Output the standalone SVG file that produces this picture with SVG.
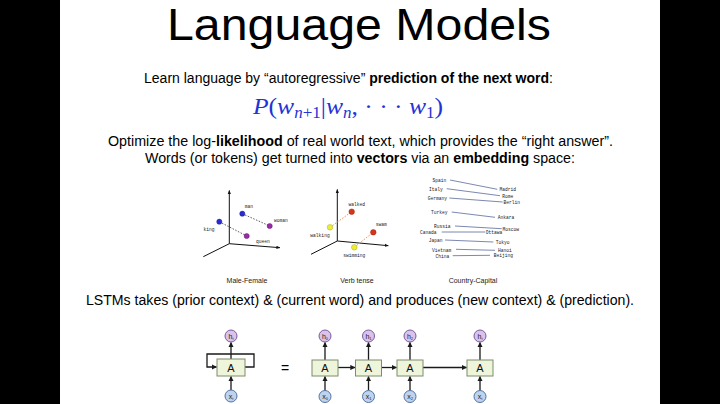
<svg xmlns="http://www.w3.org/2000/svg" width="720" height="404" viewBox="0 0 720 404">
<style>
.t{font-family:"Liberation Sans",Arial,sans-serif;fill:#000}
.b{font-weight:bold}
.mono{font-family:"Liberation Mono","Courier New",monospace;font-size:4.6px;fill:#222}
.cap{font-family:"Liberation Sans",Arial,sans-serif;font-size:7px;fill:#222;text-anchor:middle}
.ax{stroke:#111;stroke-width:1;fill:none}
.cl{stroke:#5a6a9a;stroke-width:0.8}
.box{fill:#eef5da;stroke:#7d8c6c;stroke-width:1}
.hc{fill:#d9c3ea;stroke:#7e5a9e;stroke-width:1}
.xc{fill:#bed3ee;stroke:#5672a0;stroke-width:1}
.ar{stroke:#1a1a1a;stroke-width:1.3;fill:none;marker-end:url(#ah)}
.lbl{font-family:"Liberation Sans",Arial,sans-serif;font-size:7px;fill:#222;text-anchor:middle}
.A{font-family:"Liberation Sans",Arial,sans-serif;font-size:11px;fill:#111;text-anchor:middle}
</style>
<defs>
<marker id="ah" viewBox="0 0 10 10" refX="9" refY="5" markerWidth="4" markerHeight="4" orient="auto"><path d="M0,0L10,5L0,10z" fill="#1a1a1a"/></marker>
<marker id="ax" viewBox="0 0 10 10" refX="9" refY="5" markerWidth="4" markerHeight="4" orient="auto"><path d="M0,1L10,5L0,9z" fill="#111"/></marker>
</defs>
<rect width="720" height="404" fill="#fff"/>
<rect x="0" y="0" width="60" height="404" fill="#000"/>
<rect x="660" y="0" width="60" height="404" fill="#000"/>

<text class="t" x="167" y="40" font-size="45" textLength="384" lengthAdjust="spacingAndGlyphs">Language Models</text>
<text class="t" x="144" y="83" font-size="14" textLength="409" lengthAdjust="spacingAndGlyphs">Learn language by “autoregressive” <tspan class="b">prediction of the next word</tspan>:</text>
<text x="253" y="114" font-family="Liberation Serif,serif" font-size="24" fill="#2433d6" textLength="190" lengthAdjust="spacingAndGlyphs"><tspan font-style="italic">P</tspan>(<tspan font-style="italic">w</tspan><tspan font-size="16" dy="4" font-style="italic">n</tspan><tspan font-size="16">+1</tspan><tspan dy="-4">|</tspan><tspan font-style="italic">w</tspan><tspan font-size="16" dy="4" font-style="italic">n</tspan><tspan dy="-4">, · · · </tspan><tspan font-style="italic">w</tspan><tspan font-size="16" dy="4">1</tspan><tspan dy="-4">)</tspan></text>
<text class="t" x="108" y="146" font-size="14" textLength="505" lengthAdjust="spacingAndGlyphs">Optimize the log-<tspan class="b">likelihood</tspan> of real world text, which provides the “right answer”.</text>
<text class="t" x="145" y="163" font-size="14" textLength="430" lengthAdjust="spacingAndGlyphs">Words (or tokens) get turned into <tspan class="b">vectors</tspan> via an <tspan class="b">embedding</tspan> space:</text>

<g id="plot-male-female">
<path class="ax" d="M229.3,243.7V190.5" marker-end="url(#ax)"/>
<path class="ax" d="M229.3,243.7L280,247.7" marker-end="url(#ax)"/>
<path class="ax" d="M229.3,243.7L203.3,256.7"/>
<path d="M219.3,221.7L246.7,236M242.3,213.7L269.7,226" stroke="#333" stroke-width="0.8" stroke-dasharray="1.5,1.5"/>
<circle cx="219.3" cy="221.7" r="2.6" fill="#2a2ad6" stroke="#1a1a80" stroke-width="0.4"/>
<circle cx="242.3" cy="213.7" r="2.6" fill="#2a2ad6" stroke="#1a1a80" stroke-width="0.4"/>
<circle cx="246.7" cy="236" r="2.6" fill="#9a2aa8" stroke="#501060" stroke-width="0.4"/>
<circle cx="269.7" cy="226" r="2.6" fill="#9a2aa8" stroke="#501060" stroke-width="0.4"/>
<text class="mono" x="209" y="230.5" text-anchor="middle">king</text>
<text class="mono" x="249" y="207.5" text-anchor="middle">man</text>
<text class="mono" x="281" y="221.5" text-anchor="middle">woman</text>
<text class="mono" x="263" y="242.5" text-anchor="middle">queen</text>
<text class="cap" x="247" y="283">Male-Female</text>
</g>

<g id="plot-verb-tense">
<path class="ax" d="M337.3,241V189.5" marker-end="url(#ax)"/>
<path class="ax" d="M337.3,241L388.3,245.7" marker-end="url(#ax)"/>
<path class="ax" d="M337.3,241L311,254.3"/>
<path d="M330,227.3L351.7,211.7M354.3,247.3L373.3,232.3" stroke="#e8905a" stroke-width="1" stroke-dasharray="1.5,1.5"/>
<circle cx="351.7" cy="211.7" r="2.8" fill="#d8341a" stroke="#802010" stroke-width="0.4"/>
<circle cx="373.3" cy="232.3" r="2.8" fill="#d8341a" stroke="#802010" stroke-width="0.4"/>
<circle cx="330" cy="227.3" r="2.8" fill="#eeee30" stroke="#9a9a20" stroke-width="0.4"/>
<circle cx="354.3" cy="247.3" r="2.8" fill="#eeee30" stroke="#9a9a20" stroke-width="0.4"/>
<text class="mono" x="356.7" y="205.8" text-anchor="middle">walked</text>
<text class="mono" x="320" y="236.5" text-anchor="middle">walking</text>
<text class="mono" x="381.3" y="225.8" text-anchor="middle">swam</text>
<text class="mono" x="354.3" y="257.2" text-anchor="middle">swimming</text>
<text class="cap" x="357" y="283">Verb tense</text>
</g>

<g id="plot-country-capital">
<path class="cl" d="M450,180L497.3,189.3M446.7,188.7L500,195.7M449.3,198L502.7,202M451.7,212L495,217.3M455,226L501.7,228.7M441.7,232L485,232M445,240L493.3,242M456,249.3L495,250.3M452.7,255.7L490,255.3"/>
<g class="mono" text-anchor="middle">
<text x="439.3" y="182.2">Spain</text>
<text x="436" y="190.8">Italy</text>
<text x="437.3" y="199.5">Germany</text>
<text x="439.3" y="213.8">Turkey</text>
<text x="442.3" y="228.2">Russia</text>
<text x="428.3" y="233.8">Canada</text>
<text x="435.7" y="241.8">Japan</text>
<text x="441.7" y="251.5">Vietnam</text>
<text x="442.3" y="257.5">China</text>
<text x="507.7" y="190.8">Madrid</text>
<text x="507.7" y="197.5">Rome</text>
<text x="511.7" y="204.2">Berlin</text>
<text x="506" y="219.2">Ankara</text>
<text x="510.7" y="230.8">Moscow</text>
<text x="494" y="233.8">Ottawa</text>
<text x="502.7" y="244.2">Tokyo</text>
<text x="505" y="252.2">Hanoi</text>
<text x="503.3" y="257.2">Beijing</text>
</g>
<text class="cap" x="473" y="283">Country-Capital</text>
</g>

<text class="t" x="86" y="305" font-size="14" textLength="548" lengthAdjust="spacingAndGlyphs">LSTMs takes (prior context) &amp; (current word) and produces (new context) &amp; (prediction).</text>

<g id="connectors">
<path class="ar" d="M231,359V342.5"/>
<path class="ar" d="M231,390V376.5"/>
<path class="ar" d="M245,367H254V354H207V367H216.5"/>
<path class="ar" d="M325,360V342.5"/>
<path class="ar" d="M325,390.5V376.5"/>
<path class="ar" d="M368.5,360V342.5"/>
<path class="ar" d="M368.5,390.5V376.5"/>
<path class="ar" d="M410,360V342.5"/>
<path class="ar" d="M410,390.5V376.5"/>
<path class="ar" d="M480,360V342.5"/>
<path class="ar" d="M480,390.5V376.5"/>
<path class="ar" d="M338,367.5H355"/>
<path class="ar" d="M381.5,367.5H396.5"/>
<path class="ar" d="M423,367.5H466.5"/>
</g>

<g id="rolled-h"><circle class="hc" cx="231" cy="336" r="6"/><text class="lbl" x="231" y="338.5">h<tspan font-size="4" dy="1">t</tspan></text></g>
<g id="rolled-A"><rect class="box" x="217" y="359" width="28" height="17"/><text class="A" x="231" y="371.5">A</text></g>
<g id="rolled-x"><circle class="xc" cx="231" cy="396" r="6"/><text class="lbl" x="231" y="398.5">x<tspan font-size="4" dy="1">t</tspan></text></g>

<text class="t" x="285" y="373" font-size="14" text-anchor="middle">=</text>

<g id="h0"><circle class="hc" cx="325" cy="336" r="6"/><text class="lbl" x="325" y="338.5">h<tspan font-size="4" dy="1">0</tspan></text></g>
<g id="A0"><rect class="box" x="312" y="360" width="26" height="16"/><text class="A" x="325" y="372">A</text></g>
<g id="x0"><circle class="xc" cx="325" cy="396.5" r="6"/><text class="lbl" x="325" y="399">x<tspan font-size="4" dy="1">0</tspan></text></g>

<g id="h1"><circle class="hc" cx="368.5" cy="336" r="6"/><text class="lbl" x="368.5" y="338.5">h<tspan font-size="4" dy="1">1</tspan></text></g>
<g id="A1"><rect class="box" x="355.5" y="360" width="26" height="16"/><text class="A" x="368.5" y="372">A</text></g>
<g id="x1"><circle class="xc" cx="368.5" cy="396.5" r="6"/><text class="lbl" x="368.5" y="399">x<tspan font-size="4" dy="1">1</tspan></text></g>

<g id="h2"><circle class="hc" cx="410" cy="336" r="6"/><text class="lbl" x="410" y="338.5">h<tspan font-size="4" dy="1">2</tspan></text></g>
<g id="A2"><rect class="box" x="397" y="360" width="26" height="16"/><text class="A" x="410" y="372">A</text></g>
<g id="x2"><circle class="xc" cx="410" cy="396.5" r="6"/><text class="lbl" x="410" y="399">x<tspan font-size="4" dy="1">2</tspan></text></g>

<g id="ht"><circle class="hc" cx="480" cy="336" r="6"/><text class="lbl" x="480" y="338.5">h<tspan font-size="4" dy="1">t</tspan></text></g>
<g id="At"><rect class="box" x="467" y="360" width="26" height="16"/><text class="A" x="480" y="372">A</text></g>
<g id="xt"><circle class="xc" cx="480" cy="396.5" r="6"/><text class="lbl" x="480" y="399">x<tspan font-size="4" dy="1">t</tspan></text></g>
</svg>
